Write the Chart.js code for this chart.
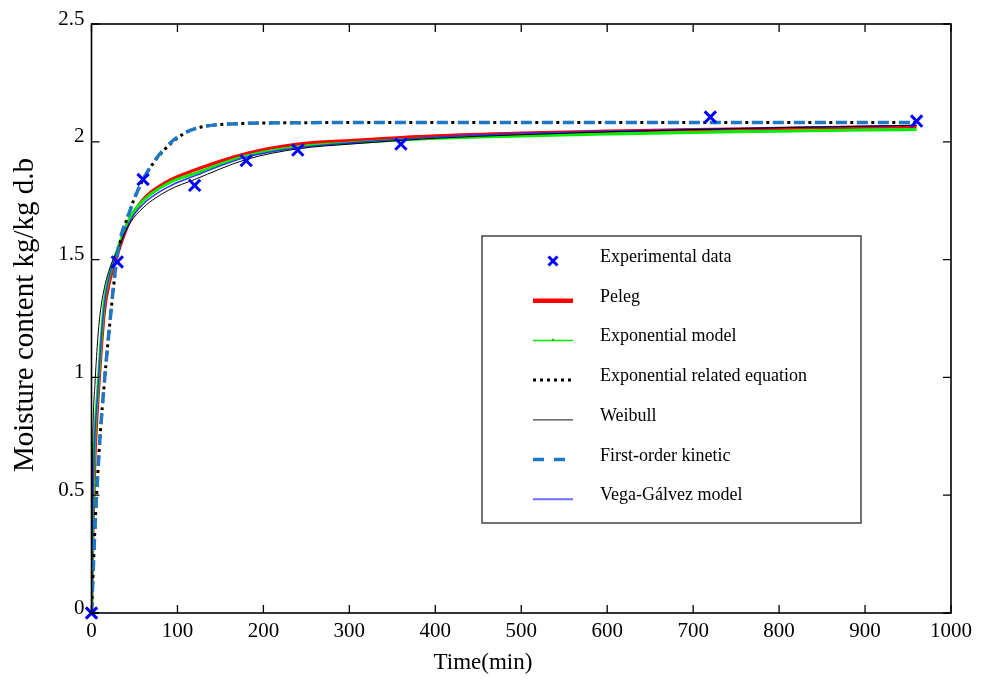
<!DOCTYPE html>
<html>
<head>
<meta charset="utf-8">
<script src="https://cdn.jsdelivr.net/npm/chart.js@4.4.1/dist/chart.umd.min.js"></script>
<style>
  html, body { margin: 0; padding: 0; background: #fff; }
  canvas { display: block; }
</style>
</head>
<body>
<canvas id="chart" width="986" height="682"></canvas>
<script>
// Experimental points
const expTimes  = [0, 30, 60, 120, 180, 240, 360, 720, 960];
const expValues = [0, 1.49, 1.84, 1.815, 1.92, 1.965, 1.99, 2.105, 2.088];

// Model curves at these times (min)
const modelTimes = [0, 1, 2, 4, 7, 10, 15, 20, 30, 45, 60, 90, 120, 180, 240, 300, 400, 500, 600, 700, 800, 900, 960];
const peleg      = [0, 0.20, 0.40, 0.66, 0.88, 1.05, 1.28, 1.39, 1.52, 1.67, 1.755, 1.835, 1.88, 1.95, 1.99, 2.005, 2.025, 2.037, 2.045, 2.052, 2.057, 2.062, 2.064];
const expModel   = [0, 0.28, 0.50, 0.76, 0.93, 1.10, 1.32, 1.42, 1.54, 1.68, 1.75, 1.825, 1.865, 1.94, 1.978, 1.995, 2.015, 2.025, 2.033, 2.04, 2.045, 2.05, 2.052];
const expRelated = [0, 0.09, 0.18, 0.36, 0.57, 0.75, 0.98, 1.18, 1.51, 1.71, 1.84, 1.985, 2.055, 2.078, 2.081, 2.082, 2.082, 2.082, 2.082, 2.082, 2.082, 2.082, 2.082];
const weibull    = [0, 0.62, 0.82, 0.97, 1.15, 1.27, 1.38, 1.45, 1.54, 1.655, 1.72, 1.795, 1.84, 1.925, 1.97, 1.99, 2.015, 2.03, 2.042, 2.052, 2.06, 2.066, 2.07];
const firstOrder = [0, 0.09, 0.18, 0.36, 0.57, 0.75, 0.98, 1.18, 1.52, 1.71, 1.84, 1.99, 2.055, 2.078, 2.081, 2.082, 2.082, 2.082, 2.082, 2.082, 2.082, 2.082, 2.082];
const vegaGalvez = [0, 0.30, 0.52, 0.76, 0.92, 1.10, 1.31, 1.42, 1.53, 1.665, 1.735, 1.81, 1.855, 1.935, 1.975, 1.995, 2.02, 2.035, 2.045, 2.053, 2.06, 2.066, 2.07];

// Axes
const xTickValues = [0, 100, 200, 300, 400, 500, 600, 700, 800, 900, 1000];
const xTickLabels = ['0', '100', '200', '300', '400', '500', '600', '700', '800', '900', '1000'];
const yTickValues = [0, 0.5, 1, 1.5, 2, 2.5];
const yTickLabels = ['0', '0.5', '1', '1.5', '2', '2.5'];
const xTitle = 'Time(min)';
const yTitle = 'Moisture content kg/kg d.b';

const FONT = '"Liberation Serif", "Times New Roman", serif';

function toPoints(xs, ys) {
    return xs.map((x, i) => ({ x: x, y: ys[i] }));
}

const lineBase = { pointRadius: 0, fill: false, cubicInterpolationMode: 'monotone', showLine: true };

const datasets = [
    { label: 'Experimental data', data: toPoints(expTimes, expValues), showLine: false,
      pointStyle: 'crossRot', pointRadius: 8, pointBorderWidth: 3, borderColor: '#0000ff',
      backgroundColor: '#0000ff', clip: false, order: 0, legendOrder: 0 },
    Object.assign({ label: 'Peleg', data: toPoints(modelTimes, peleg), borderColor: '#ff0000', borderWidth: 3.2, order: 6, legendOrder: 1 }, lineBase),
    Object.assign({ label: 'Exponential model', data: toPoints(modelTimes, expModel), borderColor: '#00ee00', borderWidth: 3, order: 5, legendOrder: 2 }, lineBase),
    Object.assign({ label: 'Exponential related equation', data: toPoints(modelTimes, expRelated), borderColor: '#000000', borderWidth: 3, borderDash: [3, 4], order: 2, legendOrder: 3 }, lineBase),
    Object.assign({ label: 'Weibull', data: toPoints(modelTimes, weibull), borderColor: '#000000', borderWidth: 1, order: 3, legendOrder: 4 }, lineBase),
    Object.assign({ label: 'First-order kinetic', data: toPoints(modelTimes, firstOrder), borderColor: '#1f78c1', borderWidth: 3.5, borderDash: [11, 10], order: 1, legendOrder: 5 }, lineBase),
    Object.assign({ label: 'Vega-Gálvez model', data: toPoints(modelTimes, vegaGalvez), borderColor: '#3030ff', borderWidth: 1.4, order: 4, legendOrder: 6 }, lineBase)
];

// Frame with inward ticks, axis titles and boxed legend
const framePlugin = {
    id: 'frame',
    afterDraw(chart) {
        const ctx = chart.ctx;
        const a = chart.chartArea;
        const xs = chart.scales.x, ys = chart.scales.y;
        const tick = 8;
        ctx.save();
        ctx.strokeStyle = '#000';
        ctx.lineWidth = 1.3;
        ctx.beginPath();
        xTickValues.forEach(v => {
            const px = xs.getPixelForValue(v);
            ctx.moveTo(px, a.bottom); ctx.lineTo(px, a.bottom - tick);
            ctx.moveTo(px, a.top); ctx.lineTo(px, a.top + tick);
        });
        yTickValues.forEach(v => {
            const py = ys.getPixelForValue(v);
            ctx.moveTo(a.left, py); ctx.lineTo(a.left + tick, py);
            ctx.moveTo(a.right, py); ctx.lineTo(a.right - tick, py);
        });
        ctx.stroke();
        ctx.lineWidth = 1.6;
        ctx.strokeRect(a.left, a.top, a.right - a.left, a.bottom - a.top);

        // axis titles
        ctx.fillStyle = '#000';
        ctx.textAlign = 'center';
        ctx.textBaseline = 'middle';
        ctx.font = '23px ' + FONT;
        ctx.fillText(xTitle, 483, 663);
        ctx.save();
        ctx.translate(25, 315);
        ctx.rotate(-Math.PI / 2);
        ctx.font = '29px ' + FONT;
        ctx.fillText(yTitle, 0, 0);
        ctx.restore();

        // legend
        const box = { x: 482, y: 236, w: 379, h: 287 };
        ctx.fillStyle = '#fff';
        ctx.fillRect(box.x, box.y, box.w, box.h);
        ctx.strokeStyle = '#444';
        ctx.lineWidth = 1.5;
        ctx.strokeRect(box.x, box.y, box.w, box.h);
        const x0 = 533, x1 = 573, rowY0 = 261, rowH = 39.7;
        ctx.font = '18px ' + FONT;
        ctx.textAlign = 'left';
        ctx.textBaseline = 'alphabetic';
        const items = chart.data.datasets.slice().sort((p, q) => p.legendOrder - q.legendOrder);
        items.forEach((ds, i) => {
            const y = rowY0 + i * rowH;
            ctx.save();
            if (ds.showLine === false) {
                const cx = (x0 + x1) / 2, r = 4.5;
                ctx.strokeStyle = ds.borderColor;
                ctx.lineWidth = 3;
                ctx.beginPath();
                ctx.moveTo(cx - r, y - r); ctx.lineTo(cx + r, y + r);
                ctx.moveTo(cx + r, y - r); ctx.lineTo(cx - r, y + r);
                ctx.stroke();
            } else {
                let lw = ds.borderWidth;
                let color = ds.borderColor;
                let end = x1;
                if (ds.label === 'Peleg') lw = 4.5;
                if (ds.label === 'Exponential model') lw = 1.5;
                if (ds.label === 'Weibull') { color = '#444'; lw = 1.2; }
                if (ds.label === 'Vega-Gálvez model') { color = '#6b6bff'; lw = 2; }
                if (ds.label === 'First-order kinetic') end = 565;
                ctx.strokeStyle = color;
                ctx.lineWidth = lw;
                ctx.setLineDash(ds.borderDash || []);
                ctx.beginPath();
                ctx.moveTo(x0, y); ctx.lineTo(end, y);
                ctx.stroke();
                if (ds.label === 'Exponential model') {
                    ctx.fillStyle = '#00aa00';
                    ctx.fillRect((x0 + x1) / 2 - 1, y - 1.5, 2, 2);
                }
            }
            ctx.restore();
            ctx.fillStyle = '#000';
            ctx.fillText(ds.label, 600, y + 1);
        });
        ctx.restore();
    }
};

new Chart(document.getElementById('chart').getContext('2d'), {
    type: 'line',
    data: { datasets: datasets },
    options: {
        responsive: false,
        devicePixelRatio: 1,
        animation: false,
        layout: { padding: { left: 0, right: 35, top: 24, bottom: 0 } },
        plugins: { legend: { display: false }, tooltip: { enabled: false } },
        scales: {
            x: {
                type: 'linear', min: 0, max: 1000,
                afterBuildTicks: s => { s.ticks = xTickValues.map(v => ({ value: v })); },
                afterFit: s => { s.height = 69; },
                grid: { display: false, drawTicks: false },
                border: { display: false },
                ticks: { color: '#000', font: { family: FONT, size: 21 }, padding: 6, maxRotation: 0,
                         callback: v => xTickLabels[xTickValues.indexOf(v)] }
            },
            y: {
                type: 'linear', min: 0, max: 2.5,
                afterBuildTicks: s => { s.ticks = yTickValues.map(v => ({ value: v })); },
                afterFit: s => { s.width = 91.5; },
                grid: { display: false, drawTicks: false },
                border: { display: false },
                ticks: { color: '#000', font: { family: FONT, size: 21 }, padding: 7, labelOffset: -5,
                         callback: v => yTickLabels[yTickValues.indexOf(v)] }
            }
        }
    },
    plugins: [framePlugin]
});
</script>
</body>
</html>
